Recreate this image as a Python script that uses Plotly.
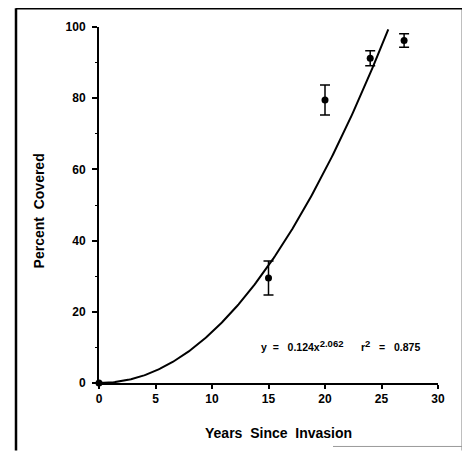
import numpy as np
import plotly.graph_objects as go

# Observed data
years = [0, 15, 20, 24, 27]
percent = [0, 29.5, 79.5, 91.2, 96.2]
err = [0, 4.8, 4.2, 2.1, 1.9]

# Fitted power model shown on the chart: y = a * x^b
fit_a = 0.124
fit_b = 2.062
fit_xmax = 25.6

x_ticks = [0, 5, 10, 15, 20, 25, 30]
y_ticks = [0, 20, 40, 60, 80, 100]

xf = np.linspace(0, fit_xmax, 200)
yf = fit_a * xf ** fit_b

fig = go.Figure()
fig.add_trace(go.Scatter(x=xf, y=yf, mode="lines", line=dict(color="black", width=2),
                         hoverinfo="skip", cliponaxis=False))
fig.add_trace(go.Scatter(
    x=years, y=percent, mode="markers",
    marker=dict(color="black", size=7),
    error_y=dict(type="data", array=err, visible=True, color="black", thickness=1.5, width=5),
    cliponaxis=False))

NB = "\u00a0"
# page body has an 8px margin, so the figure is shrunk by 8px and shifted
W, H = 462, 443
L, T = 91, 16
PW, PH = 339, 359


def px(xp):  # page pixel x -> paper
    return (xp - 99) / PW


def py(yp):  # page pixel y -> paper
    return (383 - yp) / PH


def sup(s):
    return "<sup><span style='font-size:9.5px'>" + s + "</span></sup>"


tickfont = dict(size=12, family="Liberation Sans, Arial", weight="bold")
fig.update_layout(
    width=W, height=H,
    margin=dict(l=L, r=W - L - PW, t=T, b=H - T - PH),
    paper_bgcolor="white", plot_bgcolor="white",
    showlegend=False,
    font=dict(family="Liberation Sans, Arial", color="black"),
    xaxis=dict(range=[0, 30], tickvals=x_ticks, showgrid=False, zeroline=False,
               showline=True, linecolor="black", linewidth=2,
               ticks="outside", ticklen=4, tickwidth=2, tickcolor="black",
               tickfont=tickfont),
    yaxis=dict(range=[0, 100], tickvals=y_ticks, showgrid=False, zeroline=False,
               showline=True, linecolor="black", linewidth=2,
               ticks="outside", ticklen=5, tickwidth=1.5, tickcolor="black",
               ticklabelstandoff=4,
               minor=dict(tickvals=[10, 30, 50, 70, 90], ticks="outside", ticklen=2,
                          tickcolor="black", tickwidth=1),
               tickfont=tickfont),
    annotations=[
        dict(text="<b>Years" + NB * 2 + "Since" + NB * 2 + "Invasion</b>", xref="paper", yref="paper",
             x=px(278), y=py(433), showarrow=False,
             font=dict(size=14), xanchor="center", yanchor="middle"),
        dict(text="<b>Percent" + NB * 2 + "Covered</b>", xref="paper", yref="paper",
             x=px(39), y=py(210), showarrow=False, textangle=-90,
             font=dict(size=14), xanchor="center", yanchor="middle"),
        dict(text="<b>y" + NB * 2 + "=" + NB * 3 + "0.124x" + sup("2.062") + NB * 6 +
                  "r" + sup("2") + NB * 3 + "=" + NB * 3 + "0.875</b>",
             xref="paper", yref="paper",
             x=px(259), y=py(345), showarrow=False,
             font=dict(size=10.5), xanchor="left", yanchor="middle"),
    ],
    shapes=[
        dict(type="line", xref="paper", yref="paper", x0=px(16), x1=px(16),
             y0=py(451), y1=py(5), line=dict(color="black", width=2.5)),
        dict(type="line", xref="paper", yref="paper", x0=px(16), x1=px(464),
             y0=py(5), y1=py(5), line=dict(color="black", width=2.5)),
        dict(type="line", xref="paper", yref="paper", x0=px(463), x1=px(463),
             y0=py(451), y1=py(5), line=dict(color="black", width=2.5)),
        dict(type="line", xref="paper", yref="paper", x0=px(333), x1=px(470),
             y0=py(447), y1=py(447), line=dict(color="#999999", width=1)),
    ],
)

fig.write_html("out.html")
